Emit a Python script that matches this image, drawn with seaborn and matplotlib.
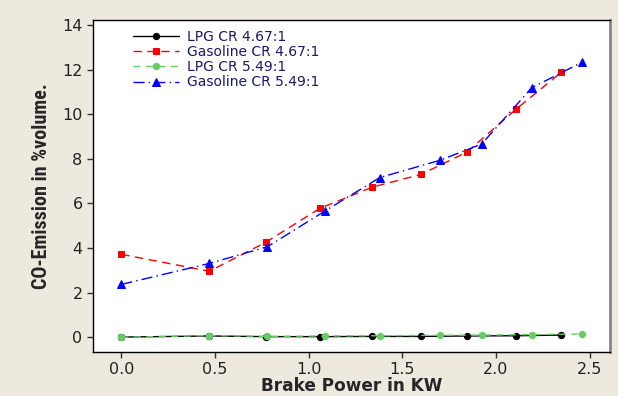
import matplotlib
matplotlib.use("Agg")
import matplotlib.pyplot as plt
from matplotlib import font_manager
import seaborn as sns
import pandas as pd

# Data
bp_467 = [0.0, 0.47, 0.77, 1.06, 1.34, 1.60, 1.845, 2.105, 2.348]
bp_549 = [0.0, 0.47, 0.78, 1.087, 1.38, 1.70, 1.923, 2.19, 2.46]
lpg_467 = [0.01, 0.06, 0.03, 0.03, 0.04, 0.04, 0.06, 0.07, 0.10]
gas_467 = [3.72, 2.96, 4.25, 5.78, 6.73, 7.30, 8.30, 10.21, 11.87]
lpg_549 = [0.00, 0.08, 0.04, 0.06, 0.07, 0.09, 0.10, 0.12, 0.15]
gas_549 = [2.37, 3.31, 4.06, 5.66, 7.16, 7.93, 8.66, 11.18, 12.33]

labels = ["LPG CR 4.67:1", "Gasoline CR 4.67:1", "LPG CR 5.49:1", "Gasoline CR 5.49:1"]
x_ticks = [0.0, 0.5, 1.0, 1.5, 2.0, 2.5]
y_ticks = [0, 2, 4, 6, 8, 10, 12, 14]

sns.set_theme(style="white")
plt.rcParams['font.family'] = ['DejaVu Sans']

available = {f.name for f in font_manager.fontManager.ttflist}
narrow = None
for cand in ["Liberation Sans Narrow", "DejaVu Sans Condensed", "Roboto Condensed", "Open Sans Condensed"]:
    if cand in available:
        narrow = cand
        break

fig = plt.figure(figsize=(6.18, 3.96), dpi=100)
fig.patch.set_facecolor("#ede9df")
ax = fig.add_axes([0.1505, 0.111, 0.8365, 0.838])
ax.set_facecolor("white")

series = [
    (bp_467, lpg_467, labels[0], "black", "o", "-", 4.5),
    (bp_467, gas_467, labels[1], "#ff0000", "s", (0, (6, 4)), 5),
    (bp_549, lpg_549, labels[2], "#66cc66", "o", (0, (5, 4)), 4.5),
    (bp_549, gas_549, labels[3], "#0000ff", "^", (0, (8, 3, 1, 3)), 6),
]
for xs, ys, lab, col, mk, ls, ms in series:
    df = pd.DataFrame({"x": xs, "y": ys})
    sns.lineplot(data=df, x="x", y="y", ax=ax, sort=False, color=col,
                 marker=mk, markersize=ms, markeredgecolor=col,
                 linestyle=ls, linewidth=1.0, label=lab)

ax.set_xlim(-0.151, 2.608)
ax.set_ylim(-0.66, 14.21)
ax.set_xticks(x_ticks)
ax.set_xticklabels([f"{v:.1f}" for v in x_ticks])
ax.set_yticks(y_ticks)
ax.tick_params(axis="both", which="major", direction="out", length=4, width=1,
               color="#333333", labelsize=11.5, labelcolor="#222222", bottom=True, left=True)

for side in ["left", "bottom", "top"]:
    ax.spines[side].set_color("black")
    ax.spines[side].set_linewidth(1.0)
ax.spines["right"].set_color("#888888")
ax.spines["right"].set_linewidth(2.0)

ax.set_xlabel("Brake Power in KW", fontsize=12.2, fontweight="bold", labelpad=0)
if narrow is not None:
    ax.set_ylabel("CO-Emission in %volume.", fontsize=14.5, fontweight="bold",
                  family=[narrow, "DejaVu Sans"], labelpad=8)
else:
    ax.set_ylabel("CO-Emission in %volume.", fontsize=12, fontweight="bold",
                  family=["Liberation Sans", "DejaVu Sans"], labelpad=8)

leg = ax.legend(loc="upper left", bbox_to_anchor=(0.05, 1.012), frameon=False,
                fontsize=10, handlelength=3.3, labelspacing=0.08, borderpad=0.5,
                handletextpad=0.6)
for t in leg.get_texts():
    t.set_color("#1a1a6a")

fig.savefig("out.png", dpi=100, facecolor=fig.get_facecolor())
